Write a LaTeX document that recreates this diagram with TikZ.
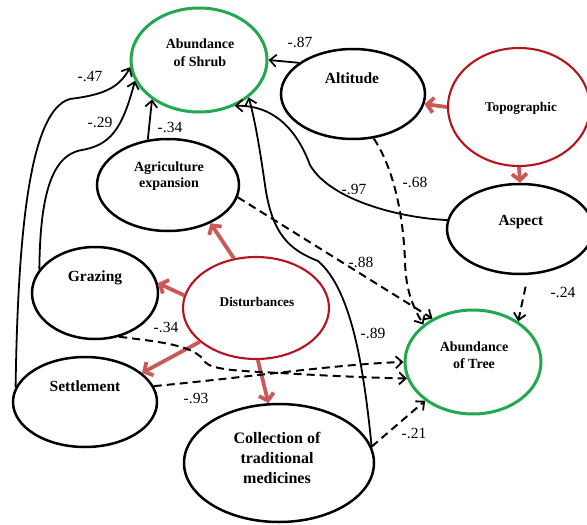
\documentclass[tikz,border=0pt]{standalone}
\usepackage{fontspec}
\setmainfont{Liberation Serif}
\usetikzlibrary{shapes.geometric,arrows.meta}
\definecolor{grnc}{RGB}{34,168,80}
\definecolor{rdc}{RGB}{180,20,30}
\definecolor{arrc}{RGB}{204,88,90}
\begin{document}
\begin{tikzpicture}[x=1pt,y=-1pt,
  ell/.style={draw, ellipse, inner sep=0pt, line width=2.5pt},
  blk/.style={ell, draw=black},
  grn/.style={ell, draw=grnc, line width=3pt},
  rd/.style={ell, draw=rdc, line width=2.1pt},
  txt/.style={align=center, inner sep=0pt},
  lab/.style={inner sep=0pt, font=\fontsize{15.5}{18}\selectfont},
  sol/.style={line width=1.8pt, -{Straight Barb[length=6.5pt,width=12pt,line width=1.7pt]}},
  dsh/.style={line width=2pt, dash pattern=on 8pt off 5pt, -{Straight Barb[length=6.5pt,width=12pt,line width=1.8pt]}},
  redarr/.style={line width=3.8pt, draw=arrc, -{Straight Barb[length=6.5pt,width=15pt,line width=3.8pt]}}
]
\useasboundingbox (0,0) rectangle (587,525);
\fill[white] (0,0) rectangle (587,525);

% ellipses
\node[grn, minimum width=136pt, minimum height=104pt] (shrub) at (199,60) {};
\node[blk, minimum width=144pt, minimum height=90pt] (alt) at (353,94) {};
\node[rd, minimum width=142pt, minimum height=118pt] (topo) at (519,107) {};
\node[blk, minimum width=146pt, minimum height=90pt] (aspect) at (520,229) {};
\node[blk, minimum width=142pt, minimum height=92pt] (agri) at (168,185) {};
\node[blk, minimum width=126pt, minimum height=92pt] (graz) at (95,293) {};
\node[rd, minimum width=146pt, minimum height=102pt] (dist) at (256,308) {};
\node[blk, minimum width=144pt, minimum height=90pt] (settle) at (85,402) {};
\node[blk, minimum width=190pt, minimum height=118pt] (coll) at (279,463) {};
\node[grn, minimum width=136pt, minimum height=104pt] (tree) at (473,362) {};

% texts
\node[txt, font=\bfseries\fontsize{14}{18}\selectfont] (shrubT) at (200,53) {Abundance\\of Shrub};
\node[txt, font=\bfseries\fontsize{15.5}{18}\selectfont] (altT) at (352,78) {Altitude};
\node[txt, font=\bfseries\fontsize{13.3}{16}\selectfont] (topoT) at (521,108) {Topographic};
\node[txt, font=\bfseries\fontsize{15.5}{18}\selectfont] (aspectT) at (521,222) {Aspect};
\node[txt, font=\bfseries\fontsize{14}{16.5}\selectfont] (agriT) at (169,176) {Agriculture\\expansion};
\node[txt, font=\bfseries\fontsize{15.5}{18}\selectfont] (grazT) at (95,278) {Grazing};
\node[txt, font=\bfseries\fontsize{13.3}{16}\selectfont] (distT) at (257,302) {Disturbances};
\node[txt, font=\bfseries\fontsize{15.5}{18}\selectfont] (settleT) at (85,386) {Settlement};
\node[txt, font=\bfseries\fontsize{16}{20}\selectfont] (collT) at (277,458) {Collection of\\traditional\\medicines};
\node[txt, font=\bfseries\fontsize{14}{17}\selectfont] (treeT) at (474,355.5) {Abundance\\of Tree};

% red arrows
\draw[redarr] (topo.west) -- (alt.-8);
\draw[redarr] (topo.south) -- (aspect.north);
\draw[redarr] (dist.114) -- (agri.-42);
\draw[redarr] (dist.170) -- (graz.9);
\draw[redarr] (dist.-149) -- (settle.27);
\draw[redarr] (dist.-88) -- (coll.100);

% solid arrows to shrub
\draw[sol] (alt.150) -- (shrub.east);
\draw[sol] (agri.114) -- (shrub.-140);
\draw[sol] (settle.168) .. controls (18,230) and (30,110) .. (70,99)
  .. controls (100,95) and (118,90) .. (shrub.-174);
\draw[sol] (graz.157) .. controls (40,200) and (50,155) .. (82,150)
  .. controls (110,145) and (122,130) .. (shrub.-162);
\draw[sol] (aspect.173) .. controls (400,218) and (330,200) .. (310,165)
  .. controls (295,125) and (270,105) .. (shrub.-52);
\draw[sol] (coll.10) .. controls (364,370) and (352,290) .. (318,261)
  .. controls (290,250) and (272,235) .. (265,185)
  .. controls (260,150) and (255,120) .. (shrub.-37);

% dashed arrows to tree
\draw[dsh] (alt.-65) .. controls (398,175) and (404,230) .. (405,262)
  .. controls (406,290) and (412,305) .. (tree.143);
\draw[dsh] (agri.-10) -- (tree.133);
\draw[dsh, shorten <=12pt] (aspect.-80) -- (tree.42);
\draw[dsh] (graz.-61) .. controls (160,342) and (195,345) .. (205,362)
  .. controls (212,370) and (240,371) .. (280,373)
  .. controls (330,376) and (380,378) .. (tree.-166);
\draw[dsh] (settle.13) .. controls (250,377) and (340,364) .. (tree.west);
\draw[dsh] (coll.10) -- (tree.-141);

% labels
\node[lab] (l87) at (300,42) {-.87};
\node[lab] (l47) at (90,77) {-.47};
\node[lab] (l29) at (100,122) {-.29};
\node[lab] (l34a) at (170,127) {-.34};
\node[lab] (l97) at (354,189) {-.97};
\node[lab] (l68) at (415,182) {-.68};
\node[lab] (l88) at (361,262) {-.88};
\node[lab] (l24) at (563,292) {-.24};
\node[lab] (l89) at (373,333) {-.89};
\node[lab] (l34b) at (166,327) {-.34};
\node[lab] (l93) at (196,398) {-.93};
\node[lab] (l21) at (414,433) {-.21};
\end{tikzpicture}
\end{document}
